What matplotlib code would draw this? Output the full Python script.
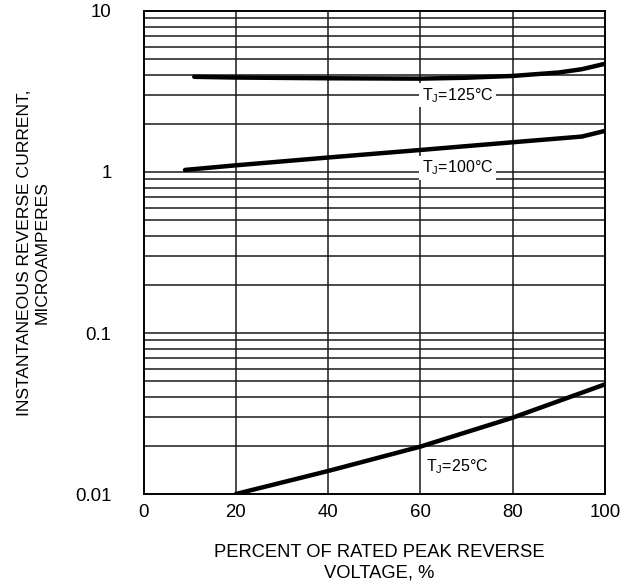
import matplotlib
matplotlib.use("Agg")
import matplotlib.pyplot as plt
from matplotlib.ticker import FixedLocator, NullFormatter

plt.rcParams['font.family'] = ['Liberation Sans', 'DejaVu Sans']

# percent of rated peak reverse voltage
x_125 = [11, 20, 40, 60, 70, 80, 90, 95, 100]
y_125 = [3.9, 3.86, 3.82, 3.8, 3.85, 3.95, 4.15, 4.35, 4.7]

x_100 = [9, 20, 40, 60, 80, 95, 100]
y_100 = [1.03, 1.1, 1.23, 1.37, 1.53, 1.66, 1.8]

x_25 = [20, 40, 60, 80, 100]
y_25 = [0.01, 0.0139, 0.0197, 0.0298, 0.048]

x_ticks = [0, 20, 40, 60, 80, 100]
y_ticks = [0.01, 0.1, 1, 10]
y_ticklabels = ["0.01", "0.1", "1", "10"]

fig = plt.figure(figsize=(6.33, 5.87), dpi=100)
ax = fig.add_axes([0.2267, 0.1584, 0.9558 - 0.2267, 0.9813 - 0.1584])

ax.set_yscale('log')
ax.set_xlim(0, 100)
ax.set_ylim(0.01, 10)

# grid: vertical every 20 %, horizontal on every log minor step
minors = [m * 10.0 ** e for e in (-2, -1, 0) for m in range(2, 10)]
for v in x_ticks[1:-1]:
    ax.axvline(v, color='#1a1a1a', lw=1.1, zorder=1)
for v in minors + [0.1, 1]:
    ax.axhline(v, color='#1a1a1a', lw=1.1, zorder=1)

ax.plot(x_125, y_125, color='black', lw=3.2, solid_capstyle='round', zorder=3)
ax.plot(x_100, y_100, color='black', lw=3.2, solid_capstyle='round', zorder=3)
ax.plot(x_25, y_25, color='black', lw=3.2, solid_capstyle='round', zorder=3)

box = dict(facecolor='white', edgecolor='none', pad=2)
ax.text(68, 3.0, 'T$\\mathregular{_J}$=125°C', ha='center', va='center', fontsize=11.5,
        bbox=box, zorder=4)
ax.text(68, 1.06, 'T$\\mathregular{_J}$=100°C', ha='center', va='center', fontsize=11.5,
        bbox=box, zorder=4)
ax.text(68, 0.0147, 'T$\\mathregular{_J}$=25°C', ha='center', va='center', fontsize=11.5,
        bbox=box, zorder=4)

ax.xaxis.set_major_locator(FixedLocator(x_ticks))
ax.yaxis.set_major_locator(FixedLocator(y_ticks))
ax.yaxis.set_minor_locator(FixedLocator(minors))
ax.yaxis.set_minor_formatter(NullFormatter())
ax.set_yticklabels(y_ticklabels)
ax.tick_params(axis='both', which='both', length=0, labelsize=13.4)
ax.tick_params(axis='y', pad=23)
ax.tick_params(axis='x', pad=7)

for s in ax.spines.values():
    s.set_linewidth(1.4)
    s.set_zorder(5)

ax.set_xlabel("PERCENT OF RATED PEAK REVERSE\nVOLTAGE, %", fontsize=13.2, linespacing=1.25)
ax.set_ylabel("INSTANTANEOUS REVERSE CURRENT,\nMICROAMPERES", fontsize=12.6, linespacing=1.25)
ax.xaxis.set_label_coords(0.51, -0.1035)
ax.yaxis.set_label_coords(-0.203, 0.5)

fig.savefig("out.png", dpi=100)
